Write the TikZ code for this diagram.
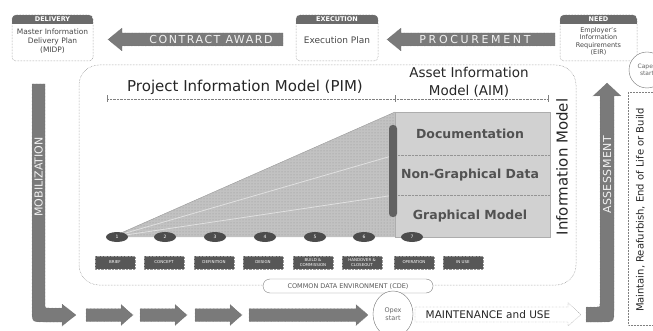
\documentclass[tikz,border=0pt]{standalone}
\usepackage{fontspec}
\setmainfont{DejaVu Sans}
\usetikzlibrary{shapes.geometric,patterns}

\def\fsz#1#2{\fontsize{#1}{#2}\selectfont}
% header card: dotted frame with a dark title strip
\def\cardframe(#1,#2)(#3,#4){%
	\begin{scope}
		\clip[rounded corners=4pt] (#1,#2) rectangle (#3,#4);
		\fill[white] (#1,#2) rectangle (#3,#4);
		\fill[black!58] (#1,#2) rectangle (#3,#2+9);
	\end{scope}
	\draw[cardline, rounded corners=4pt] (#1,#2) rectangle (#3,#4);}
% block arrows (from x : to x : centre y)
\def\larr(#1:#2:#3){\draw[flowarrow] (#1,#3) -- (#1+14,#3-11.5) -- (#1+14,#3-6.5) -- (#2,#3-6.5) -- (#2,#3+6.5) -- (#1+14,#3+6.5) -- (#1+14,#3+11.5) -- cycle;}
\def\rarr(#1:#2:#3){\draw[flowarrow] (#1,#3-6.5) -- (#2-12,#3-6.5) -- (#2-12,#3-10.5) -- (#2,#3) -- (#2-12,#3+10.5) -- (#2-12,#3+6.5) -- (#1,#3+6.5) -- cycle;}

\tikzset{
	flowarrow/.style={fill=black!52, draw=black!64, densely dotted, line width=0.4pt},
	arrowtext/.style={text=black!5, inner sep=0pt, font=\fsz{11}{12}\addfontfeatures{LetterSpace=#1}},
	arrowtext/.default=15,
	cardline/.style={draw=black!50, densely dotted, line width=0.5pt},
	cardhead/.style={text=white, inner sep=0pt, font=\bfseries\fsz{6.5}{7}},
	cardtext/.style={text=black!72, align=center, inner sep=0pt, font=\fsz{7.5}{9}},
	regionline/.style={draw=black!50, densely dotted, line width=0.5pt},
	layertext/.style={text=black!68, font=\bfseries\fsz{12.5}{14}},
	stagenum/.style={ellipse, fill=black!70, minimum width=22pt, minimum height=10pt, inner sep=0pt, text=white, font=\fsz{4.5}{5}},
	stagebox/.style={fill=black!66, draw=black!40, densely dotted, minimum width=40pt, minimum height=13pt, inner sep=0pt, text=white, align=center, font=\fsz{4}{4.5}},
	startcircle/.style={ellipse, draw=black!55, fill=white, inner sep=0pt, text=black!60, align=center, font=\fsz{6.5}{7.5}},
}

\begin{document}
\begin{tikzpicture}[x=1pt,y=-1pt]
	\useasboundingbox (0,0) rectangle (653,331);

	%%%%% TOP ROW %%%%%
	\cardframe(12,15)(93,61)
	\node[cardhead] (delhead) at (52.5,19.5) {DELIVERY};
	\node[cardtext] (deltext) at (52.5,41.5) {Master Information\\Delivery Plan\\(MIDP)};

	\larr(108:283:39.5)
	\node[arrowtext=14] (award) at (211,39.5) {CONTRACT AWARD};

	\cardframe(296,15)(378,61)
	\node[cardhead] (exehead) at (337,19.5) {EXECUTION};
	\node[cardtext, font=\fsz{9}{10}] (exetext) at (337,40) {Execution Plan};

	\larr(387:555:39.5)
	\node[arrowtext=24] (procure) at (475,39.5) {PROCUREMENT};

	\cardframe(560,15)(637,61)
	\node[cardhead] (needhead) at (598.5,19.5) {NEED};
	\node[cardtext, font=\fsz{6.5}{7.5}] (needtext) at (598.5,41.5) {Employer's\\Information\\Requirements\\(EIR)};

	\node[startcircle, minimum width=36pt, minimum height=36pt, font=\fsz{6}{7.5}] (capex) at (647,70) {Capex\\start};

	%%%%% MODEL AREA %%%%%
	\draw[regionline, rounded corners=20pt] (79,65) rectangle (576,285);

	\node[text=black!85, font=\fsz{15}{17}] (pim) at (245,87) {Project Information Model (PIM)};
	\node[text=black!85, align=center, font=\fsz{13.5}{18}] (aim) at (469,82) {Asset Information\\Model (AIM)};
	\draw[black!50, densely dotted] (107,99) -- (548,99);
	\foreach \x in {107,395,548} \draw[black!50] (\x,95.5) -- (\x,102.5);

	% growing wedge
	\fill[black!24] (112,237) -- (395,112) -- (395,237) -- cycle;
	\fill[pattern=dots, pattern color=black!42] (112,237) -- (395,112) -- (395,237) -- cycle;
	\draw[black!12, line width=0.8pt] (112,237) -- (395,155) (112,237) -- (395,195);
	\draw[black!40] (112,237) -- (395,112);

	\draw[fill=black!18, draw=black!32] (395,112) rectangle (550,237);
	\draw[black!42, densely dotted] (395,155) -- (550,155) (395,195) -- (550,195);
	\node[layertext] (docs) at (470,134) {Documentation};
	\node[layertext] (ngdata) at (470,175) {Non-Graphical Data};
	\node[layertext] (graphic) at (470,216) {Graphical Model};
	\fill[black!62, rounded corners=3.5pt] (389,125) rectangle (397,217);
	\node[rotate=90, text=black!85, font=\fsz{15}{17}] (infomodel) at (562,167) {Information Model};

	\foreach \n/\x in {1/117,2/165,3/215,4/265,5/315,6/364,7/412}
		\node[stagenum] (num\n) at (\x,237) {\n};
	\foreach \x/\lbl [count=\i] in {115/BRIEF,164/CONCEPT,214/DEFINITION,263/DESIGN,313/{BUILD \&\\COMMISSION},362/{HANDOVER \&\\CLOSEOUT},414/OPERATION,463/IN USE}
		\node[stagebox] (stage\i) at (\x,262.5) {\lbl};

	\node[draw=black!50, fill=white, rounded corners=7pt, minimum width=170pt, minimum height=14pt, inner sep=0pt, text=black!65, font=\fsz{6.5}{7}] (cde) at (348,286) {COMMON DATA ENVIRONMENT (CDE)};

	%%%%% BOTTOM ROW %%%%%
	\draw[flowarrow] (32,84) -- (45,84) -- (45,304) .. controls (45,308) .. (49,308) -- (62,308) -- (62,304) -- (76,315) -- (62,326) -- (62,322) -- (44,322) .. controls (32,322) .. (32,310) -- cycle;
	\node[arrowtext=0, rotate=90] (mobil) at (38.5,177) {MOBILIZATION};

	\rarr(86:133:315)
	\rarr(140:187:315)
	\rarr(195:242:315)
	\rarr(249:368:315)

	\node[startcircle, minimum width=40pt, minimum height=46pt] (opex) at (393,314) {Opex\\start};

	\draw[draw=black!55, fill=white, densely dotted] (415,307) -- (568,307) -- (568,303) -- (581,314.5) -- (568,326) -- (568,322) -- (415,322) -- cycle;
	\node[text=black!85, font=\fsz{10.5}{12}] (maint) at (488,314.5) {MAINTENANCE and USE};

	\draw[flowarrow] (586,307) -- (597,307) .. controls (600,307) .. (600,304) -- (600,96) -- (593,96) -- (607,83) -- (621,96) -- (614,96) -- (614,310) .. controls (614,322) .. (602,322) -- (586,322) -- cycle;
	\node[arrowtext=4, rotate=90] (assess) at (607,175) {ASSESSMENT};

	\draw[regionline] (628,92) rectangle (660,325);
	\node[rotate=90, text=black!85, font=\fsz{10}{12}] (lifecycle) at (640.5,210) {Maintain, Reafurbish, End of Life or Build};
\end{tikzpicture}
\end{document}
